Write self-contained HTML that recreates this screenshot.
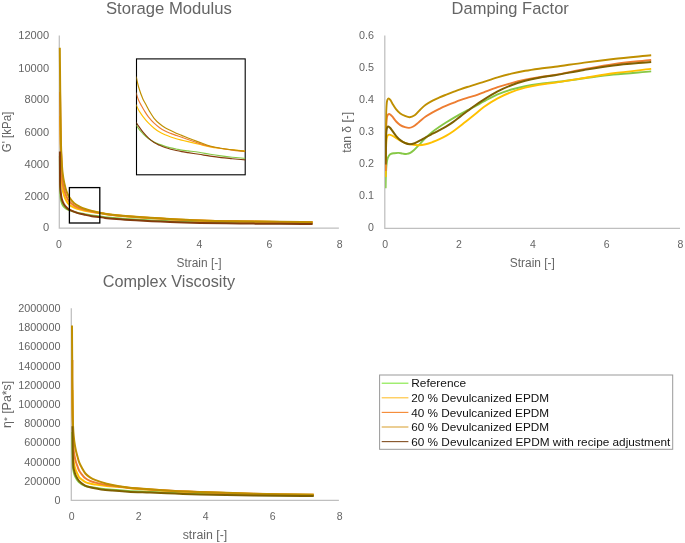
<!DOCTYPE html>
<html><head><meta charset="utf-8"><title>Figure</title>
<style>html,body{margin:0;padding:0;background:#fff}svg{display:block;will-change:transform}text{filter:grayscale(1)}</style></head>
<body>
<svg width="685" height="543" viewBox="0 0 685 543" font-family="Liberation Sans, sans-serif">
<defs><clipPath id="c2clip"><rect x="385.15" y="30" width="300" height="200"/></clipPath><clipPath id="insclip"><rect x="136.5" y="58.9" width="108.7" height="115.9"/></clipPath></defs>
<rect width="685" height="543" fill="#fff"/>
<path d="M59.3 35.5 V228.1 H338.9" fill="none" stroke="#BFBFBF" stroke-width="1.25"/>
<text x="49.1" y="231.4" font-size="10.50" text-anchor="end" fill="#656565" textLength="6.2" lengthAdjust="spacingAndGlyphs" >0</text>
<text x="49.1" y="200.2" font-size="10.50" text-anchor="end" fill="#656565" textLength="24.6" lengthAdjust="spacingAndGlyphs" >2000</text>
<text x="49.1" y="167.7" font-size="10.50" text-anchor="end" fill="#656565" textLength="24.6" lengthAdjust="spacingAndGlyphs" >4000</text>
<text x="49.1" y="135.7" font-size="10.50" text-anchor="end" fill="#656565" textLength="24.6" lengthAdjust="spacingAndGlyphs" >6000</text>
<text x="49.1" y="103.4" font-size="10.50" text-anchor="end" fill="#656565" textLength="24.6" lengthAdjust="spacingAndGlyphs" >8000</text>
<text x="49.1" y="71.6" font-size="10.50" text-anchor="end" fill="#656565" textLength="30.8" lengthAdjust="spacingAndGlyphs" >10000</text>
<text x="49.1" y="38.6" font-size="10.50" text-anchor="end" fill="#656565" textLength="30.8" lengthAdjust="spacingAndGlyphs" >12000</text>
<text x="59.0" y="247.5" font-size="10.50" text-anchor="middle" fill="#656565" >0</text>
<text x="129.2" y="247.5" font-size="10.50" text-anchor="middle" fill="#656565" >2</text>
<text x="199.3" y="247.5" font-size="10.50" text-anchor="middle" fill="#656565" >4</text>
<text x="269.5" y="247.5" font-size="10.50" text-anchor="middle" fill="#656565" >6</text>
<text x="339.7" y="247.5" font-size="10.50" text-anchor="middle" fill="#656565" >8</text>
<text x="168.9" y="14.2" font-size="16.75" text-anchor="middle" fill="#656565" textLength="126.0" lengthAdjust="spacingAndGlyphs" >Storage Modulus</text>
<text x="199.0" y="267.0" font-size="12.00" text-anchor="middle" fill="#656565" textLength="45.0" lengthAdjust="spacingAndGlyphs" >Strain [-]</text>
<text x="11.3" y="132.0" font-size="12.00" text-anchor="middle" fill="#656565" textLength="40.6" lengthAdjust="spacingAndGlyphs" transform="rotate(-90 11.3 132.0)" >G' [kPa]</text>
<path d="M59.80 156.00 C59.83 162.33 59.86 169.27 59.90 175.00 C59.93 179.74 59.88 184.33 60.00 188.00 C60.09 190.69 60.21 192.84 60.40 195.00 C60.56 196.86 60.59 198.48 61.00 200.20 C61.43 202.01 62.01 204.11 63.00 205.60 C63.90 206.96 65.33 208.11 66.50 208.90 C67.43 209.53 68.11 209.74 69.30 210.20 C71.23 210.94 74.52 211.94 77.10 212.60 C79.58 213.23 82.03 213.63 84.50 214.10 C86.96 214.57 89.40 215.04 91.90 215.40 C94.46 215.77 97.35 215.99 99.70 216.30 C101.64 216.56 102.49 216.81 105.00 217.10 C111.04 217.79 125.42 218.83 136.00 219.50 C147.07 220.20 159.02 220.76 170.00 221.20 C180.31 221.61 189.28 221.85 200.00 222.10 C212.38 222.39 226.67 222.62 240.00 222.80 C253.33 222.98 267.35 223.10 280.00 223.20 C291.42 223.29 301.73 223.33 312.60 223.40" fill="none" stroke="#86C846" stroke-width="1.90" stroke-linecap="butt" stroke-linejoin="round"/>
<path d="M60.00 116.00 C60.23 125.67 60.44 136.91 60.70 145.00 C60.89 150.82 61.06 154.18 61.30 160.00 C61.63 168.12 61.58 182.92 62.50 189.17 C62.94 192.19 63.48 193.73 64.20 195.80 C64.87 197.71 65.68 199.60 66.60 201.17 C67.41 202.55 68.14 203.75 69.30 204.78 C70.60 205.93 72.45 206.80 74.20 207.58 C76.04 208.41 78.27 209.06 80.10 209.59 C81.66 210.05 82.84 210.33 84.50 210.68 C86.64 211.12 89.40 211.57 91.90 211.94 C94.46 212.32 97.35 212.57 99.70 212.94 C101.64 213.24 102.49 213.56 105.00 213.91 C111.04 214.76 125.42 216.11 136.00 216.98 C147.06 217.88 159.02 218.55 170.00 219.15 C180.31 219.72 189.28 220.16 200.00 220.53 C212.37 220.95 226.67 221.18 240.00 221.41 C253.33 221.64 267.35 221.75 280.00 221.90 C291.42 222.04 301.73 222.16 312.60 222.29" fill="none" stroke="#FFC000" stroke-width="2.00" stroke-linecap="butt" stroke-linejoin="round"/>
<path d="M60.00 92.00 C60.15 101.33 60.29 110.93 60.44 120.00 C60.57 128.57 60.63 137.73 60.84 145.00 C60.99 150.64 61.19 154.56 61.44 160.00 C61.73 166.51 61.81 175.96 62.50 181.44 C62.93 184.91 63.48 187.20 64.20 189.86 C64.87 192.32 65.66 194.82 66.60 196.86 C67.40 198.60 68.12 200.05 69.30 201.46 C70.60 203.00 72.41 204.49 74.20 205.64 C76.00 206.80 78.26 207.66 80.10 208.39 C81.66 209.01 82.83 209.38 84.50 209.85 C86.64 210.45 89.39 211.05 91.90 211.56 C94.46 212.08 97.35 212.50 99.70 212.93 C101.64 213.28 102.49 213.55 105.00 213.91 C111.04 214.77 125.42 216.11 136.00 216.98 C147.06 217.88 159.02 218.55 170.00 219.15 C180.31 219.72 189.28 220.16 200.00 220.53 C212.37 220.95 226.67 221.18 240.00 221.41 C253.33 221.64 267.35 221.75 280.00 221.90 C291.42 222.04 301.73 222.16 312.60 222.29" fill="none" stroke="#ED7D31" stroke-width="2.00" stroke-linecap="butt" stroke-linejoin="round"/>
<path d="M59.80 47.80 C59.93 61.87 60.05 77.13 60.20 90.00 C60.32 100.85 60.46 110.46 60.60 120.00 C60.73 128.71 60.80 137.73 61.00 145.00 C61.16 150.64 61.33 155.28 61.60 160.00 C61.84 164.23 62.05 168.13 62.50 172.00 C62.93 175.65 63.48 179.23 64.20 182.60 C64.87 185.74 65.64 188.96 66.60 191.60 C67.39 193.78 68.11 195.54 69.30 197.40 C70.59 199.42 72.35 201.61 74.20 203.20 C75.97 204.71 78.25 205.84 80.10 206.80 C81.64 207.60 82.82 208.09 84.50 208.70 C86.63 209.47 89.39 210.24 91.90 210.90 C94.46 211.57 97.35 212.21 99.70 212.70 C101.63 213.11 102.49 213.34 105.00 213.70 C111.03 214.57 125.42 215.93 136.00 216.80 C147.06 217.71 159.02 218.39 170.00 219.00 C180.31 219.57 189.28 220.03 200.00 220.40 C212.37 220.83 226.67 221.07 240.00 221.30 C253.33 221.53 267.35 221.64 280.00 221.80 C291.42 221.94 301.73 222.07 312.60 222.20" fill="none" stroke="#BF8F00" stroke-width="2.00" stroke-linecap="butt" stroke-linejoin="round"/>
<path d="M59.90 151.50 C59.93 157.67 59.95 163.97 60.00 170.00 C60.05 175.76 59.97 182.68 60.20 186.90 C60.34 189.44 60.55 191.05 60.80 193.00 C61.03 194.81 61.14 196.44 61.60 198.20 C62.10 200.13 62.84 202.43 63.80 204.10 C64.63 205.56 65.79 206.82 66.80 207.80 C67.62 208.60 68.18 209.06 69.30 209.70 C71.13 210.75 74.50 212.06 77.10 212.90 C79.57 213.70 82.03 214.15 84.50 214.70 C86.96 215.25 89.39 215.82 91.90 216.20 C94.46 216.59 97.36 216.68 99.70 217.00 C101.64 217.26 102.49 217.59 105.00 217.90 C111.04 218.64 125.42 219.63 136.00 220.30 C147.07 221.00 159.02 221.56 170.00 222.00 C180.31 222.41 189.28 222.66 200.00 222.90 C212.38 223.18 226.67 223.35 240.00 223.50 C253.33 223.65 267.35 223.71 280.00 223.80 C291.42 223.88 301.73 223.93 312.60 224.00" fill="none" stroke="#843C0C" stroke-width="2.00" stroke-linecap="butt" stroke-linejoin="round"/>
<rect x="69.4" y="187.6" width="30.4" height="35.4" fill="none" stroke="#000" stroke-width="1.3"/>
<rect x="136.5" y="58.9" width="108.7" height="115.9" fill="#fff" stroke="#000" stroke-width="1.1"/>
<g clip-path="url(#insclip)">
<path d="M136.00 124.70 C136.13 124.93 136.19 125.07 136.40 125.40 C136.96 126.29 138.54 128.77 139.70 130.20 C140.75 131.50 141.72 132.46 143.00 133.70 C144.59 135.25 146.67 137.28 148.60 138.70 C150.38 140.01 152.24 141.04 154.10 142.00 C155.90 142.93 157.76 143.66 159.60 144.40 C161.42 145.13 163.25 145.82 165.10 146.40 C166.95 146.98 168.83 147.46 170.70 147.90 C172.53 148.33 174.37 148.63 176.20 149.00 C178.03 149.37 179.80 149.79 181.70 150.10 C183.72 150.43 185.61 150.60 188.00 150.90 C191.16 151.30 195.33 151.74 199.00 152.30 C202.70 152.87 206.40 153.70 210.10 154.30 C213.77 154.90 217.42 155.42 221.10 155.90 C224.79 156.38 228.33 156.80 232.20 157.20 C236.43 157.64 241.07 158.00 245.50 158.40" fill="none" stroke="#86C846" stroke-width="1.15" stroke-linecap="butt" stroke-linejoin="round"/>
<path d="M136.00 104.40 C136.13 104.70 136.21 104.88 136.40 105.30 C136.84 106.26 137.96 108.82 138.60 110.00 C139.01 110.76 139.22 111.06 139.70 111.80 C140.49 113.02 141.71 114.91 143.00 116.60 C144.58 118.66 146.68 121.21 148.60 123.20 C150.38 125.05 152.22 126.69 154.10 128.20 C155.89 129.64 157.72 130.98 159.60 132.10 C161.39 133.17 163.24 133.98 165.10 134.80 C166.94 135.61 168.83 136.34 170.70 137.00 C172.53 137.64 174.36 138.18 176.20 138.70 C178.03 139.21 179.80 139.63 181.70 140.10 C183.73 140.60 185.61 141.02 188.00 141.60 C191.16 142.36 195.32 143.42 199.00 144.30 C202.69 145.18 206.39 146.20 210.10 146.90 C213.76 147.59 217.42 148.02 221.10 148.50 C224.79 148.98 228.33 149.41 232.20 149.80 C236.43 150.22 241.07 150.53 245.50 150.90" fill="none" stroke="#FFC000" stroke-width="1.15" stroke-linecap="butt" stroke-linejoin="round"/>
<path d="M136.00 92.40 C136.13 92.83 136.21 93.10 136.40 93.70 C136.83 95.05 137.73 98.25 138.60 100.30 C139.41 102.20 140.45 103.88 141.40 105.60 C142.32 107.27 143.13 108.76 144.20 110.50 C145.47 112.58 146.96 115.09 148.60 117.20 C150.25 119.33 152.20 121.40 154.10 123.20 C155.88 124.88 157.72 126.38 159.60 127.70 C161.39 128.96 163.23 130.04 165.10 131.00 C166.93 131.93 168.83 132.66 170.70 133.40 C172.53 134.12 174.36 134.75 176.20 135.40 C178.03 136.05 179.81 136.64 181.70 137.30 C183.73 138.00 185.61 138.66 188.00 139.50 C191.16 140.61 195.30 142.23 199.00 143.40 C202.67 144.56 206.39 145.65 210.10 146.50 C213.76 147.34 217.42 147.90 221.10 148.50 C224.79 149.10 228.33 149.60 232.20 150.10 C236.43 150.64 241.07 151.10 245.50 151.60" fill="none" stroke="#ED7D31" stroke-width="1.15" stroke-linecap="butt" stroke-linejoin="round"/>
<path d="M136.00 76.50 C136.13 76.90 136.23 77.11 136.40 77.70 C136.86 79.33 137.62 83.72 138.60 87.00 C139.74 90.82 141.49 95.86 143.00 99.20 C144.11 101.66 145.28 103.33 146.40 105.40 C147.51 107.46 148.47 109.52 149.70 111.60 C151.02 113.82 152.43 116.25 154.10 118.30 C155.74 120.32 157.70 122.19 159.60 123.80 C161.37 125.30 163.22 126.55 165.10 127.70 C166.92 128.81 168.83 129.68 170.70 130.60 C172.53 131.51 174.35 132.40 176.20 133.20 C178.02 133.99 179.81 134.63 181.70 135.40 C183.73 136.23 185.60 137.06 188.00 138.00 C191.15 139.24 195.32 140.77 199.00 142.10 C202.69 143.43 206.37 144.98 210.10 146.00 C213.74 147.00 217.42 147.57 221.10 148.20 C224.78 148.83 228.33 149.29 232.20 149.80 C236.43 150.36 241.07 150.87 245.50 151.40" fill="none" stroke="#BF8F00" stroke-width="1.15" stroke-linecap="butt" stroke-linejoin="round"/>
<path d="M136.00 122.00 C136.13 122.23 136.19 122.37 136.40 122.70 C136.96 123.61 138.58 126.10 139.70 127.70 C140.78 129.23 141.71 130.56 143.00 132.10 C144.58 133.99 146.68 136.30 148.60 138.10 C150.39 139.77 152.19 141.38 154.10 142.60 C155.87 143.74 157.75 144.48 159.60 145.30 C161.42 146.11 163.24 146.85 165.10 147.50 C166.94 148.15 168.83 148.70 170.70 149.20 C172.53 149.69 174.36 150.10 176.20 150.50 C178.03 150.90 179.80 151.26 181.70 151.60 C183.73 151.96 185.61 152.23 188.00 152.60 C191.16 153.09 195.33 153.72 199.00 154.30 C202.69 154.88 206.40 155.55 210.10 156.10 C213.77 156.65 217.42 157.17 221.10 157.60 C224.79 158.03 228.33 158.33 232.20 158.70 C236.43 159.10 241.07 159.50 245.50 159.90" fill="none" stroke="#843C0C" stroke-width="1.15" stroke-linecap="butt" stroke-linejoin="round"/>
</g>
<path d="M384.8 35.5 V228.3 H680.0" fill="none" stroke="#BFBFBF" stroke-width="1.25"/>
<text x="373.9" y="231.2" font-size="10.50" text-anchor="end" fill="#656565" textLength="5.9" lengthAdjust="spacingAndGlyphs" >0</text>
<text x="373.9" y="199.1" font-size="10.50" text-anchor="end" fill="#656565" textLength="15.0" lengthAdjust="spacingAndGlyphs" >0.1</text>
<text x="373.9" y="167.0" font-size="10.50" text-anchor="end" fill="#656565" textLength="15.0" lengthAdjust="spacingAndGlyphs" >0.2</text>
<text x="373.9" y="134.9" font-size="10.50" text-anchor="end" fill="#656565" textLength="15.0" lengthAdjust="spacingAndGlyphs" >0.3</text>
<text x="373.9" y="102.8" font-size="10.50" text-anchor="end" fill="#656565" textLength="15.0" lengthAdjust="spacingAndGlyphs" >0.4</text>
<text x="373.9" y="70.8" font-size="10.50" text-anchor="end" fill="#656565" textLength="15.0" lengthAdjust="spacingAndGlyphs" >0.5</text>
<text x="373.9" y="38.7" font-size="10.50" text-anchor="end" fill="#656565" textLength="15.0" lengthAdjust="spacingAndGlyphs" >0.6</text>
<text x="385.2" y="247.9" font-size="10.50" text-anchor="middle" fill="#656565" >0</text>
<text x="459.0" y="247.9" font-size="10.50" text-anchor="middle" fill="#656565" >2</text>
<text x="532.8" y="247.9" font-size="10.50" text-anchor="middle" fill="#656565" >4</text>
<text x="606.6" y="247.9" font-size="10.50" text-anchor="middle" fill="#656565" >6</text>
<text x="680.4" y="247.9" font-size="10.50" text-anchor="middle" fill="#656565" >8</text>
<text x="510.2" y="14.2" font-size="16.75" text-anchor="middle" fill="#656565" textLength="117.2" lengthAdjust="spacingAndGlyphs" >Damping Factor</text>
<text x="532.3" y="267.0" font-size="12.00" text-anchor="middle" fill="#656565" textLength="45.0" lengthAdjust="spacingAndGlyphs" >Strain [-]</text>
<text x="351.3" y="132.3" font-size="12.00" text-anchor="middle" fill="#656565" textLength="40.8" lengthAdjust="spacingAndGlyphs" transform="rotate(-90 351.3 132.3)" >tan δ [-]</text>
<g clip-path="url(#c2clip)">
<path d="M385.60 188.30 C385.70 183.97 385.72 179.46 385.90 175.30 C386.07 171.45 386.26 167.25 386.60 164.20 C386.84 162.04 387.03 160.23 387.50 158.70 C387.86 157.52 388.28 156.52 388.90 155.70 C389.47 154.95 390.15 154.32 391.00 153.90 C391.95 153.43 393.20 153.37 394.40 153.20 C395.72 153.02 397.21 152.83 398.60 152.90 C399.98 152.97 401.32 153.43 402.70 153.60 C404.09 153.77 405.59 154.04 406.90 153.90 C408.11 153.77 409.21 153.45 410.30 152.90 C411.51 152.29 412.57 151.37 413.80 150.30 C415.37 148.93 417.01 147.07 418.80 145.20 C420.93 142.97 423.34 140.09 425.70 137.80 C427.95 135.61 430.25 133.57 432.60 131.70 C434.85 129.91 437.18 128.38 439.50 126.80 C441.78 125.24 444.09 123.76 446.40 122.30 C448.69 120.86 450.99 119.47 453.30 118.10 C455.59 116.74 457.88 115.39 460.20 114.10 C462.51 112.82 464.80 111.65 467.20 110.40 C469.73 109.08 472.33 107.83 475.00 106.40 C477.86 104.87 480.52 103.26 483.80 101.50 C487.87 99.32 492.93 96.42 497.60 94.40 C502.14 92.44 506.76 90.87 511.40 89.50 C515.96 88.15 520.58 87.13 525.20 86.20 C529.81 85.27 534.30 84.55 539.10 83.90 C544.21 83.20 548.91 82.93 555.00 82.20 C563.27 81.21 574.46 79.57 584.20 78.30 C593.93 77.03 603.03 75.70 613.40 74.60 C625.18 73.36 638.60 72.47 651.20 71.40" fill="none" stroke="#86C846" stroke-width="1.90" stroke-linecap="butt" stroke-linejoin="round"/>
<path d="M385.70 177.00 C385.77 169.67 385.73 161.57 385.90 155.00 C386.03 149.66 386.07 144.04 386.50 140.50 C386.75 138.42 386.84 136.56 387.50 135.60 C387.91 135.01 388.46 134.68 389.10 134.60 C389.94 134.50 391.13 135.10 392.20 135.60 C393.48 136.20 394.86 137.26 396.20 138.10 C397.56 138.96 398.77 139.89 400.30 140.70 C402.08 141.64 404.19 142.62 406.30 143.30 C408.51 144.01 411.10 144.49 413.30 144.80 C415.23 145.08 416.87 145.27 418.80 145.20 C420.97 145.12 423.42 144.72 425.70 144.20 C428.02 143.67 430.32 142.83 432.60 142.00 C434.92 141.16 437.22 140.24 439.50 139.20 C441.82 138.14 444.13 136.99 446.40 135.70 C448.73 134.37 451.03 132.88 453.30 131.30 C455.63 129.68 457.91 127.90 460.20 126.10 C462.54 124.26 464.80 122.33 467.20 120.40 C469.72 118.37 472.33 116.35 475.00 114.20 C477.85 111.90 480.45 109.41 483.80 107.00 C487.81 104.11 492.91 100.82 497.60 98.30 C502.12 95.88 506.75 93.88 511.40 92.10 C515.95 90.36 520.56 88.92 525.20 87.70 C529.79 86.49 534.30 85.63 539.10 84.80 C544.21 83.91 548.91 83.50 555.00 82.60 C563.27 81.38 574.47 79.55 584.20 78.00 C593.93 76.45 603.02 74.74 613.40 73.30 C625.17 71.67 638.60 70.37 651.20 68.90" fill="none" stroke="#FFC000" stroke-width="1.90" stroke-linecap="butt" stroke-linejoin="round"/>
<path d="M385.70 171.00 C385.77 160.67 385.72 148.94 385.90 140.00 C386.04 133.19 386.09 126.54 386.50 122.00 C386.75 119.22 386.76 116.60 387.50 115.30 C387.91 114.58 388.57 114.04 389.10 114.00 C389.57 113.96 390.03 114.45 390.50 114.80 C391.06 115.22 391.55 115.68 392.20 116.40 C393.29 117.59 394.79 120.00 396.20 121.50 C397.50 122.87 398.81 124.14 400.30 125.10 C401.75 126.03 403.46 126.73 405.00 127.20 C406.39 127.62 407.74 128.00 409.10 127.90 C410.51 127.79 411.87 127.27 413.30 126.50 C415.09 125.54 416.87 123.74 418.80 122.20 C420.98 120.47 423.35 118.28 425.70 116.60 C427.95 114.99 430.27 113.61 432.60 112.30 C434.87 111.02 437.19 109.91 439.50 108.80 C441.79 107.71 444.09 106.69 446.40 105.70 C448.69 104.72 451.00 103.82 453.30 102.90 C455.60 101.98 457.88 101.03 460.20 100.20 C462.51 99.37 464.80 98.65 467.20 97.90 C469.72 97.11 472.34 96.49 475.00 95.60 C477.86 94.64 480.54 93.51 483.80 92.30 C487.88 90.78 492.97 88.74 497.60 87.20 C502.18 85.68 506.78 84.34 511.40 83.10 C515.98 81.87 520.58 80.78 525.20 79.80 C529.81 78.82 534.30 78.00 539.10 77.20 C544.21 76.35 548.92 75.93 555.00 74.90 C563.28 73.49 574.46 71.00 584.20 69.20 C593.92 67.40 603.01 65.57 613.40 64.10 C625.16 62.44 638.60 61.37 651.20 60.00" fill="none" stroke="#ED7D31" stroke-width="1.90" stroke-linecap="butt" stroke-linejoin="round"/>
<path d="M385.70 160.00 C385.77 150.00 385.76 139.23 385.90 130.00 C386.02 122.10 386.03 113.49 386.40 108.00 C386.62 104.70 386.62 101.71 387.30 100.10 C387.66 99.25 388.20 98.43 388.70 98.40 C389.20 98.37 389.79 99.26 390.30 99.90 C390.97 100.75 391.43 101.95 392.20 103.20 C393.27 104.94 394.76 107.53 396.20 109.30 C397.48 110.88 398.80 112.29 400.30 113.40 C401.74 114.47 403.41 115.26 405.00 115.90 C406.51 116.51 408.04 117.26 409.60 117.20 C411.27 117.13 413.08 116.35 414.70 115.30 C416.65 114.04 418.34 111.47 420.20 109.70 C422.01 107.98 423.69 106.29 425.70 104.80 C427.81 103.24 430.26 101.85 432.60 100.60 C434.87 99.39 437.19 98.40 439.50 97.40 C441.79 96.41 444.10 95.52 446.40 94.60 C448.70 93.68 451.00 92.78 453.30 91.90 C455.60 91.02 457.88 90.12 460.20 89.30 C462.52 88.48 464.80 87.75 467.20 87.00 C469.72 86.21 472.33 85.53 475.00 84.70 C477.85 83.81 480.54 82.87 483.80 81.80 C487.88 80.46 492.98 78.67 497.60 77.30 C502.18 75.94 506.78 74.69 511.40 73.60 C515.98 72.52 520.58 71.62 525.20 70.80 C529.81 69.98 534.31 69.35 539.10 68.70 C544.22 68.01 548.91 67.60 555.00 66.80 C563.27 65.71 574.46 63.90 584.20 62.60 C593.93 61.30 603.03 60.15 613.40 59.00 C625.18 57.70 638.60 56.53 651.20 55.30" fill="none" stroke="#BF8F00" stroke-width="1.90" stroke-linecap="butt" stroke-linejoin="round"/>
<path d="M385.70 164.50 C385.77 158.00 385.78 150.71 385.90 145.00 C386.00 140.52 386.03 136.17 386.30 133.00 C386.48 130.90 386.51 128.91 387.00 127.80 C387.28 127.17 387.66 126.57 388.10 126.50 C388.58 126.43 389.23 127.08 389.80 127.60 C390.59 128.31 391.31 129.44 392.20 130.60 C393.38 132.15 394.79 134.47 396.20 136.10 C397.50 137.60 398.82 138.94 400.30 140.10 C401.76 141.24 403.37 142.31 405.00 143.00 C406.54 143.65 408.19 144.16 409.80 144.20 C411.42 144.24 413.06 143.77 414.70 143.20 C416.52 142.56 418.38 141.38 420.20 140.40 C422.04 139.41 423.75 138.36 425.70 137.30 C427.86 136.13 430.30 134.89 432.60 133.70 C434.90 132.52 437.21 131.41 439.50 130.20 C441.81 128.98 444.13 127.77 446.40 126.40 C448.73 125.00 451.03 123.51 453.30 121.90 C455.63 120.25 457.89 118.36 460.20 116.60 C462.52 114.83 464.80 113.10 467.20 111.30 C469.73 109.40 472.30 107.41 475.00 105.50 C477.82 103.51 480.51 101.68 483.80 99.60 C487.85 97.04 492.93 93.83 497.60 91.40 C502.13 89.04 506.75 86.98 511.40 85.20 C515.95 83.46 520.56 82.05 525.20 80.80 C529.80 79.56 534.30 78.61 539.10 77.70 C544.21 76.73 548.91 76.23 555.00 75.20 C563.27 73.80 574.45 71.52 584.20 69.90 C593.92 68.29 603.02 66.78 613.40 65.50 C625.17 64.05 638.60 63.10 651.20 61.90" fill="none" stroke="#7F6000" stroke-width="2.00" stroke-linecap="butt" stroke-linejoin="round"/>
</g>
<path d="M71.3 308.3 V500.3 H338.9" fill="none" stroke="#BFBFBF" stroke-width="1.25"/>
<text x="60.5" y="503.9" font-size="10.50" text-anchor="end" fill="#656565" textLength="6.0" lengthAdjust="spacingAndGlyphs" >0</text>
<text x="60.5" y="484.7" font-size="10.50" text-anchor="end" fill="#656565" textLength="36.2" lengthAdjust="spacingAndGlyphs" >200000</text>
<text x="60.5" y="465.5" font-size="10.50" text-anchor="end" fill="#656565" textLength="36.2" lengthAdjust="spacingAndGlyphs" >400000</text>
<text x="60.5" y="446.3" font-size="10.50" text-anchor="end" fill="#656565" textLength="36.2" lengthAdjust="spacingAndGlyphs" >600000</text>
<text x="60.5" y="427.1" font-size="10.50" text-anchor="end" fill="#656565" textLength="36.2" lengthAdjust="spacingAndGlyphs" >800000</text>
<text x="60.5" y="407.9" font-size="10.50" text-anchor="end" fill="#656565" textLength="42.3" lengthAdjust="spacingAndGlyphs" >1000000</text>
<text x="60.5" y="388.7" font-size="10.50" text-anchor="end" fill="#656565" textLength="42.3" lengthAdjust="spacingAndGlyphs" >1200000</text>
<text x="60.5" y="369.5" font-size="10.50" text-anchor="end" fill="#656565" textLength="42.3" lengthAdjust="spacingAndGlyphs" >1400000</text>
<text x="60.5" y="350.3" font-size="10.50" text-anchor="end" fill="#656565" textLength="42.3" lengthAdjust="spacingAndGlyphs" >1600000</text>
<text x="60.5" y="331.1" font-size="10.50" text-anchor="end" fill="#656565" textLength="42.3" lengthAdjust="spacingAndGlyphs" >1800000</text>
<text x="60.5" y="311.9" font-size="10.50" text-anchor="end" fill="#656565" textLength="42.3" lengthAdjust="spacingAndGlyphs" >2000000</text>
<text x="71.7" y="519.9" font-size="10.50" text-anchor="middle" fill="#656565" >0</text>
<text x="138.7" y="519.9" font-size="10.50" text-anchor="middle" fill="#656565" >2</text>
<text x="205.7" y="519.9" font-size="10.50" text-anchor="middle" fill="#656565" >4</text>
<text x="272.7" y="519.9" font-size="10.50" text-anchor="middle" fill="#656565" >6</text>
<text x="339.7" y="519.9" font-size="10.50" text-anchor="middle" fill="#656565" >8</text>
<text x="168.9" y="286.8" font-size="16.75" text-anchor="middle" fill="#656565" textLength="132.4" lengthAdjust="spacingAndGlyphs" >Complex Viscosity</text>
<text x="205.0" y="539.2" font-size="12.00" text-anchor="middle" fill="#656565" textLength="44.6" lengthAdjust="spacingAndGlyphs" >strain [-]</text>
<text x="11.3" y="404.4" font-size="12" text-anchor="middle" fill="#656565" textLength="47.3" lengthAdjust="spacingAndGlyphs" transform="rotate(-90 11.3 404.4)">η<tspan font-size="9.5" dy="-1">*</tspan><tspan dy="1"> [Pa*s]</tspan></text>
<path d="M72.20 432.00 C72.27 438.67 72.27 445.76 72.40 452.00 C72.52 457.50 72.51 463.77 72.90 467.50 C73.13 469.64 73.39 470.94 73.80 472.50 C74.17 473.92 74.52 475.11 75.20 476.50 C76.02 478.19 77.12 480.31 78.60 481.80 C80.15 483.37 82.40 484.73 84.40 485.60 C86.24 486.40 87.88 486.56 90.10 487.00 C93.16 487.61 97.42 488.23 101.10 488.70 C104.79 489.17 108.17 489.46 112.20 489.80 C117.00 490.20 122.30 490.57 128.00 490.90 C134.73 491.29 142.43 491.58 150.00 491.90 C158.07 492.24 166.67 492.58 175.00 492.90 C183.33 493.22 190.69 493.53 200.00 493.80 C211.77 494.14 226.67 494.45 240.00 494.70 C253.33 494.95 267.24 495.15 280.00 495.30 C291.71 495.44 302.47 495.50 313.70 495.60" fill="none" stroke="#86C846" stroke-width="1.90" stroke-linecap="butt" stroke-linejoin="round"/>
<path d="M72.40 390.00 C72.53 400.00 72.61 409.16 72.80 420.00 C73.02 432.82 72.79 454.38 73.70 461.97 C74.05 464.85 74.55 466.21 75.00 467.84 C75.33 469.04 75.59 469.89 76.00 470.92 C76.44 472.02 77.06 473.17 77.60 474.25 C78.12 475.30 78.48 476.41 79.20 477.31 C79.94 478.23 81.00 478.92 82.00 479.69 C83.06 480.51 84.13 481.43 85.40 482.06 C86.77 482.75 88.38 483.17 90.00 483.58 C91.76 484.02 93.41 484.23 95.60 484.56 C98.67 485.02 103.00 485.57 106.70 485.95 C110.37 486.32 114.10 486.46 117.70 486.79 C121.19 487.12 123.92 487.53 128.00 487.92 C133.96 488.48 142.43 489.16 150.00 489.70 C158.06 490.27 166.66 490.81 175.00 491.22 C183.33 491.64 190.69 491.86 200.00 492.20 C211.77 492.63 226.67 493.15 240.00 493.53 C253.33 493.91 267.24 494.24 280.00 494.47 C291.71 494.67 302.47 494.73 313.70 494.86" fill="none" stroke="#FFC000" stroke-width="2.00" stroke-linecap="butt" stroke-linejoin="round"/>
<path d="M72.40 360.00 C72.37 366.67 72.27 372.19 72.30 380.00 C72.34 391.05 72.54 407.56 72.80 420.00 C73.03 430.89 73.03 443.82 73.70 450.61 C74.04 454.04 74.55 456.16 75.00 458.28 C75.32 459.82 75.59 460.86 76.00 462.20 C76.44 463.66 77.05 465.25 77.60 466.70 C78.12 468.09 78.49 469.46 79.20 470.74 C79.94 472.08 80.99 473.33 82.00 474.57 C83.05 475.85 84.08 477.27 85.40 478.30 C86.74 479.36 88.36 480.10 90.00 480.81 C91.74 481.56 93.40 482.04 95.60 482.63 C98.66 483.44 103.00 484.34 106.70 484.98 C110.36 485.60 114.09 485.96 117.70 486.41 C121.19 486.85 123.92 487.24 128.00 487.66 C133.95 488.27 142.43 488.94 150.00 489.50 C158.06 490.09 166.66 490.64 175.00 491.06 C183.33 491.49 190.69 491.71 200.00 492.05 C211.77 492.48 226.67 493.02 240.00 493.41 C253.33 493.80 267.24 494.15 280.00 494.38 C291.71 494.59 302.47 494.65 313.70 494.78" fill="none" stroke="#ED7D31" stroke-width="2.00" stroke-linecap="butt" stroke-linejoin="round"/>
<path d="M72.00 325.60 C72.10 343.73 72.15 363.26 72.30 380.00 C72.43 394.36 72.45 409.67 72.80 420.00 C73.02 426.54 73.26 431.30 73.70 436.00 C74.05 439.73 74.55 443.24 75.00 446.00 C75.32 447.96 75.60 449.26 76.00 451.00 C76.45 452.92 77.05 455.07 77.60 457.00 C78.12 458.83 78.50 460.53 79.20 462.30 C79.95 464.20 80.97 466.14 82.00 468.00 C83.04 469.88 84.03 471.93 85.40 473.50 C86.72 475.01 88.33 476.19 90.00 477.30 C91.72 478.44 93.37 479.27 95.60 480.20 C98.63 481.47 102.98 482.83 106.70 483.80 C110.35 484.75 114.08 485.39 117.70 486.00 C121.18 486.58 123.92 486.95 128.00 487.40 C133.95 488.06 142.43 488.73 150.00 489.30 C158.06 489.91 166.66 490.47 175.00 490.90 C183.33 491.33 190.69 491.55 200.00 491.90 C211.77 492.34 226.67 492.90 240.00 493.30 C253.33 493.70 267.24 494.06 280.00 494.30 C291.71 494.52 302.47 494.57 313.70 494.70" fill="none" stroke="#BF8F00" stroke-width="2.00" stroke-linecap="butt" stroke-linejoin="round"/>
<path d="M72.50 426.30 C72.60 434.20 72.61 442.69 72.80 450.00 C72.97 456.30 73.00 463.86 73.50 467.60 C73.74 469.38 74.04 470.21 74.40 471.50 C74.77 472.81 75.07 474.03 75.70 475.40 C76.49 477.12 77.57 479.28 79.00 480.90 C80.50 482.61 82.65 484.22 84.60 485.30 C86.37 486.28 87.92 486.70 90.10 487.30 C93.11 488.13 97.41 488.85 101.10 489.40 C104.78 489.95 108.17 490.24 112.20 490.60 C117.00 491.03 122.30 491.38 128.00 491.70 C134.73 492.07 142.43 492.29 150.00 492.60 C158.07 492.93 166.67 493.30 175.00 493.60 C183.33 493.90 190.69 494.16 200.00 494.40 C211.77 494.71 226.67 494.98 240.00 495.20 C253.33 495.42 267.24 495.56 280.00 495.70 C291.71 495.83 302.47 495.90 313.70 496.00" fill="none" stroke="#7F6000" stroke-width="2.00" stroke-linecap="butt" stroke-linejoin="round"/>
<rect x="379.6" y="375.0" width="293.1" height="74.3" fill="none" stroke="#999" stroke-width="1"/>
<line x1="381.7" x2="408.4" y1="383.2" y2="383.2" stroke="#86E848" stroke-width="1.15"/>
<text x="411.2" y="387.4" font-size="11.75" text-anchor="start" fill="#111" textLength="54.9" lengthAdjust="spacingAndGlyphs" >Reference</text>
<line x1="381.7" x2="408.4" y1="397.8" y2="397.8" stroke="#FFC33A" stroke-width="1.15"/>
<text x="411.2" y="402.0" font-size="11.75" text-anchor="start" fill="#111" textLength="137.9" lengthAdjust="spacingAndGlyphs" >20 % Devulcanized EPDM</text>
<line x1="381.7" x2="408.4" y1="412.4" y2="412.4" stroke="#F58E3C" stroke-width="1.15"/>
<text x="411.2" y="416.6" font-size="11.75" text-anchor="start" fill="#111" textLength="137.9" lengthAdjust="spacingAndGlyphs" >40 % Devulcanized EPDM</text>
<line x1="381.7" x2="408.4" y1="427.0" y2="427.0" stroke="#DDAA44" stroke-width="1.15"/>
<text x="411.2" y="431.2" font-size="11.75" text-anchor="start" fill="#111" textLength="137.9" lengthAdjust="spacingAndGlyphs" >60 % Devulcanized EPDM</text>
<line x1="381.7" x2="408.4" y1="441.6" y2="441.6" stroke="#8A5A30" stroke-width="1.15"/>
<text x="411.2" y="445.8" font-size="11.75" text-anchor="start" fill="#111" textLength="259.1" lengthAdjust="spacingAndGlyphs" >60 % Devulcanized EPDM with recipe adjustment</text>
</svg>
</body></html>
